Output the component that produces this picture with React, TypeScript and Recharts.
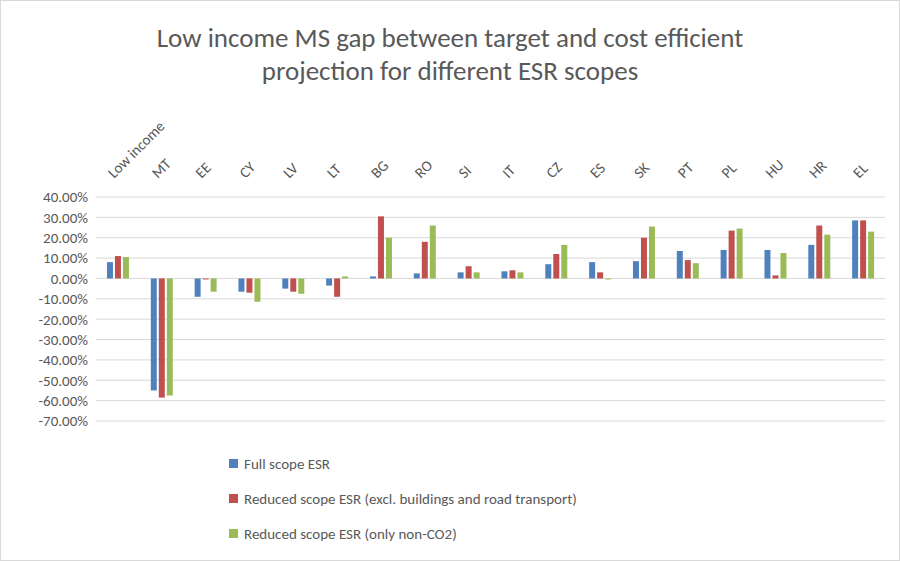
import React from 'react';
import { BarChart, Bar, XAxis, YAxis, CartesianGrid } from 'recharts';

const categories = ['Low income','MT','EE','CY','LV','LT','BG','RO','SI','IT','CZ','ES','SK','PT','PL','HU','HR','EL'];
const fullScope = [8,-55,-9,-6.5,-5,-3.5,1,2.5,3,3.5,7,8,8.5,13.5,14,14,16.5,28.5];
const reducedBuild = [11,-58.5,-0.5,-7,-6.5,-9,30.5,18,6,4,12,3,20,9,23.5,1.5,26,28.5];
const reducedNonCO2 = [10.5,-57.5,-6.5,-11.5,-7.5,1,20,26,3,3,16.5,-0.5,25.5,7.5,24.5,12.5,21.5,23];
const yTicks = [0.4,0.3,0.2,0.1,0,-0.1,-0.2,-0.3,-0.4,-0.5,-0.6,-0.7];

const data = categories.map((c, i) => ({
  name: c,
  full: fullScope[i] / 100,
  red: reducedBuild[i] / 100,
  non: reducedNonCO2[i] / 100,
}));

const series = [
  { key: 'full', name: 'Full scope ESR', color: '#4F81BD' },
  { key: 'red', name: 'Reduced scope ESR (excl. buildings and road transport)', color: '#C0504D' },
  { key: 'non', name: 'Reduced scope ESR (only non-CO2)', color: '#9BBB59' },
];

const font = 'Calibri, Carlito, "Open Sans", sans-serif';

const Tick = (p: any) => (
  <text x={p.x - 4} y={p.y - 10} transform={`rotate(-45 ${p.x - 4} ${p.y - 10})`} textAnchor="start" fontSize={15} fill="#595959" fontFamily={font}>
    {p.payload.value}
  </text>
);

export default function App() {
  return (
    <div style={{ position: 'absolute', left: 0, top: 0, width: 898, height: 559, border: '1px solid #d9d9d9', background: '#fff' }}>
      <div style={{ position: 'absolute', top: 20, width: '100%', textAlign: 'center', fontFamily: font, fontSize: 27, color: '#595959', lineHeight: '33px' }}>
        Low income MS gap between target and cost efficient<br />projection for different ESR scopes
      </div>
      <BarChart width={898} height={559} data={data} margin={{ top: 90, right: 14, bottom: 139, left: 0 }} barCategoryGap="25%" barGap={2}>
        <CartesianGrid vertical={false} stroke="#d9d9d9" />
        <XAxis dataKey="name" orientation="top" height={106} axisLine={false} tickLine={false} tick={<Tick />} interval={0} />
        <YAxis domain={[-0.7, 0.4]} ticks={yTicks} interval={0} width={95} axisLine={false} tickLine={false}
          tickFormatter={(v: number) => (v * 100).toFixed(2) + '%'} tick={{ fontSize: 15, fill: '#595959', fontFamily: font }} />
        {series.map(s => (
          <Bar key={s.key} dataKey={s.key} name={s.name} fill={s.color} isAnimationActive={false} />
        ))}
      </BarChart>
      <div style={{ position: 'absolute', left: 228, top: 445, fontFamily: font, fontSize: 15, color: '#595959' }}>
        {series.map(s => (
          <div key={s.key} style={{ display: 'flex', alignItems: 'center', height: 35 }}>
            <span style={{ width: 9, height: 9, background: s.color, display: 'inline-block', marginRight: 6 }} />
            {s.name}
          </div>
        ))}
      </div>
    </div>
  );
}
